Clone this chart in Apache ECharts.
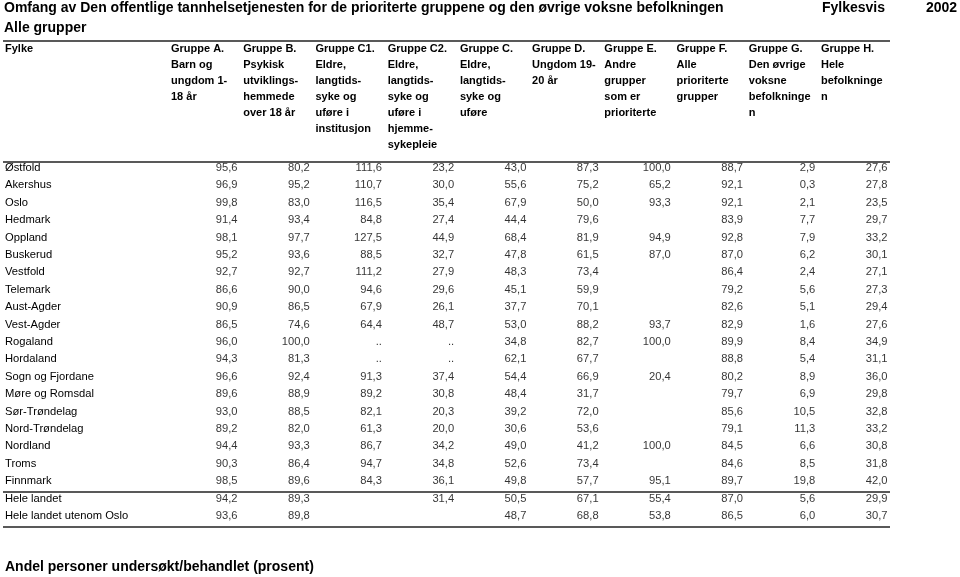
<!DOCTYPE html>
<html><head><meta charset="utf-8">
<script src="https://cdn.jsdelivr.net/npm/echarts@6/dist/echarts.min.js"></script>
<style>html,body{margin:0;padding:0;background:#fff}#c{width:960px;height:577px}</style>
</head><body><div id="c"></div>
<script>
const counties = ['Østfold','Akershus','Oslo','Hedmark','Oppland','Buskerud','Vestfold','Telemark','Aust-Agder','Vest-Agder','Rogaland','Hordaland','Sogn og Fjordane','Møre og Romsdal','Sør-Trøndelag','Nord-Trøndelag','Nordland','Troms','Finnmark','Hele landet','Hele landet utenom Oslo'];
const headers = [
  'Gruppe A.\nBarn og\nungdom 1-\n18 år',
  'Gruppe B.\nPsykisk\nutviklings-\nhemmede\nover 18 år',
  'Gruppe C1.\nEldre,\nlangtids-\nsyke og\nuføre i\ninstitusjon',
  'Gruppe C2.\nEldre,\nlangtids-\nsyke og\nuføre i\nhjemme-\nsykepleie',
  'Gruppe C.\nEldre,\nlangtids-\nsyke og\nuføre',
  'Gruppe D.\nUngdom 19-\n20 år',
  'Gruppe E.\nAndre\ngrupper\nsom er\nprioriterte',
  'Gruppe F.\nAlle\nprioriterte\ngrupper',
  'Gruppe G.\nDen øvrige\nvoksne\nbefolkninge\nn',
  'Gruppe H.\nHele\nbefolkninge\nn'
];
const gruppeA  = [95.6,96.9,99.8,91.4,98.1,95.2,92.7,86.6,90.9,86.5,96.0,94.3,96.6,89.6,93.0,89.2,94.4,90.3,98.5,94.2,93.6];
const gruppeB  = [80.2,95.2,83.0,93.4,97.7,93.6,92.7,90.0,86.5,74.6,100.0,81.3,92.4,88.9,88.5,82.0,93.3,86.4,89.6,89.3,89.8];
const gruppeC1 = [111.6,110.7,116.5,84.8,127.5,88.5,111.2,94.6,67.9,64.4,'..','..',91.3,89.2,82.1,61.3,86.7,94.7,84.3,null,null];
const gruppeC2 = [23.2,30.0,35.4,27.4,44.9,32.7,27.9,29.6,26.1,48.7,'..','..',37.4,30.8,20.3,20.0,34.2,34.8,36.1,31.4,null];
const gruppeC  = [43.0,55.6,67.9,44.4,68.4,47.8,48.3,45.1,37.7,53.0,34.8,62.1,54.4,48.4,39.2,30.6,49.0,52.6,49.8,50.5,48.7];
const gruppeD  = [87.3,75.2,50.0,79.6,81.9,61.5,73.4,59.9,70.1,88.2,82.7,67.7,66.9,31.7,72.0,53.6,41.2,73.4,57.7,67.1,68.8];
const gruppeE  = [100.0,65.2,93.3,null,94.9,87.0,null,null,null,93.7,100.0,null,20.4,null,null,null,100.0,null,95.1,55.4,53.8];
const gruppeF  = [88.7,92.1,92.1,83.9,92.8,87.0,86.4,79.2,82.6,82.9,89.9,88.8,80.2,79.7,85.6,79.1,84.5,84.6,89.7,87.0,86.5];
const gruppeG  = [2.9,0.3,2.1,7.7,7.9,6.2,2.4,5.6,5.1,1.6,8.4,5.4,8.9,6.9,10.5,11.3,6.6,8.5,19.8,5.6,6.0];
const gruppeH  = [27.6,27.8,23.5,29.7,33.2,30.1,27.1,27.3,29.4,27.6,34.9,31.1,36.0,29.8,32.8,33.2,30.8,31.8,42.0,29.9,30.7];

const columns = [gruppeA,gruppeB,gruppeC1,gruppeC2,gruppeC,gruppeD,gruppeE,gruppeF,gruppeG,gruppeH];
const cells = [];
columns.forEach((col, c) => col.forEach((v, r) => { if (v !== null) cells.push([c, r, v]); }));
const fmt = v => typeof v === 'number' ? v.toFixed(1).replace('.', ',') : v;

const FF = '"Liberation Sans", Arial, Helvetica, sans-serif';
const chart = echarts.init(document.getElementById('c'), null, {renderer:'canvas'});
const line = (y) => ({type:'line', shape:{x1:3,y1:y,x2:890,y2:y}, style:{stroke:'#222', lineWidth:1.6}, silent:true});
chart.setOption({
  animation:false,
  backgroundColor:'#fff',
  textStyle:{fontFamily:FF},
  title:[
    {text:'Omfang av Den offentlige tannhelsetjenesten for de prioriterte gruppene og den øvrige voksne befolkningen', left:4, top:1, padding:0, textStyle:{fontFamily:FF, fontSize:14, fontWeight:'bold', color:'#000'}},
    {text:'Alle grupper', left:4, top:21, padding:0, textStyle:{fontFamily:FF, fontSize:14, fontWeight:'bold', color:'#000'}},
    {text:'Fylkesvis', left:822, top:1, padding:0, textStyle:{fontFamily:FF, fontSize:14, fontWeight:'bold', color:'#000'}},
    {text:'2002', left:926, top:1, padding:0, textStyle:{fontFamily:FF, fontSize:14, fontWeight:'bold', color:'#000'}},
    {text:'Fylke', left:5, top:43, padding:0, textStyle:{fontFamily:FF, fontSize:11, fontWeight:'bold', color:'#000'}},
    {text:'Andel personer undersøkt/behandlet (prosent)', left:5, top:560, padding:0, textStyle:{fontFamily:FF, fontSize:14, fontWeight:'bold', color:'#000'}}
  ],
  grid:{left:171, width:650, top:159.3, height:365.4, containLabel:false},
  xAxis:{
    type:'category', data:headers, position:'top', boundaryGap:false,
    axisLine:{show:false}, axisTick:{show:false}, splitLine:{show:false},
    axisLabel:{interval:0, align:'left', verticalAlign:'top', margin:118.5, lineHeight:16,
      fontFamily:FF, fontSize:11, fontWeight:'bold', color:'#000'}
  },
  yAxis:{
    type:'category', data:counties, inverse:true,
    axisLine:{show:false}, axisTick:{show:false}, splitLine:{show:false},
    axisLabel:{interval:0, align:'left', margin:166, fontFamily:FF, fontSize:11.2, color:'#000'}
  },
  series:[{
    type:'scatter', data:cells, symbolSize:0, silent:true,
    label:{show:true, position:[66.5,0], align:'right', verticalAlign:'middle',
      fontFamily:FF, fontSize:11.2, color:'#000', formatter:p => fmt(p.value[2])}
  }],
  graphic:[line(41), line(162), line(492), line(527)]
});
</script></body></html>
